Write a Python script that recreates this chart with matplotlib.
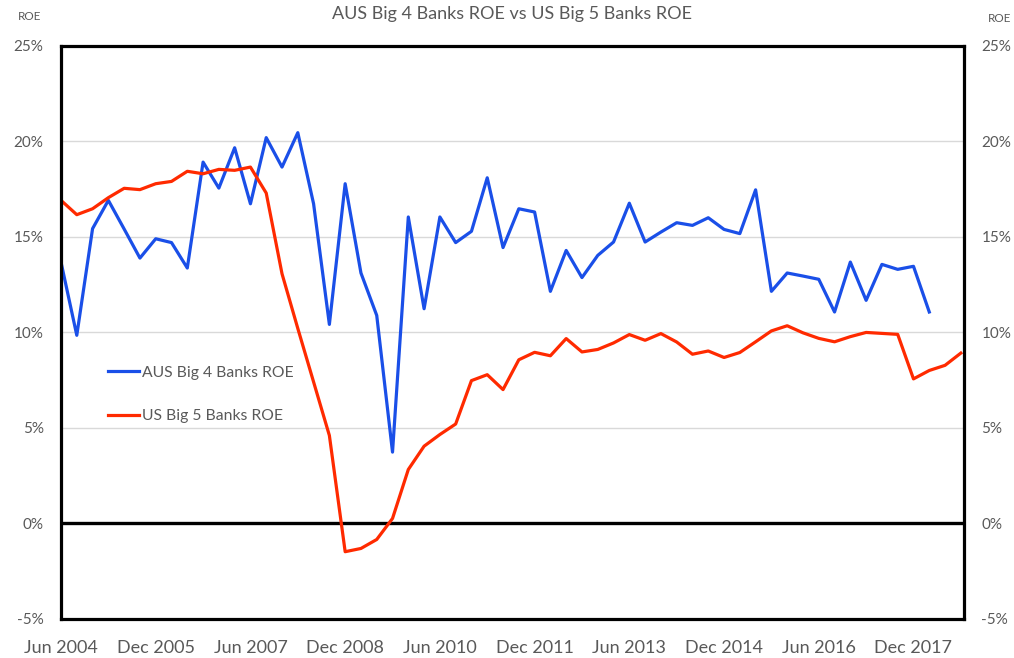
import matplotlib
matplotlib.use("Agg")
import matplotlib.pyplot as plt
import numpy as np

plt.rcParams['font.family'] = ['Lato', 'DejaVu Sans']

# Quarterly periods starting Jun 2004
start_year, start_month = 2004, 6
n_quarters = 58
month_names = ['Jan', 'Feb', 'Mar', 'Apr', 'May', 'Jun', 'Jul', 'Aug', 'Sep', 'Oct', 'Nov', 'Dec']
periods = []
for i in range(n_quarters):
    m = start_month - 1 + 3 * i
    periods.append(f"{month_names[m % 12]} {start_year + m // 12}")

aus_roe = [13.67, 9.84, 15.42, 16.90, 15.40, 13.88, 14.89, 14.69, 13.36, 18.90,
           17.54, 19.65, 16.72, 20.18, 18.64, 20.44, 16.72, 10.41, 17.77, 13.10,
           10.88, 3.73, 16.03, 11.23, 16.03, 14.69, 15.28, 18.08, 14.43, 16.46,
           16.29, 12.14, 14.28, 12.86, 14.02, 14.72, 16.75, 14.72, 15.24, 15.73,
           15.59, 15.99, 15.38, 15.16, 17.45, 12.14, 13.10, 12.94, 12.77, 11.06,
           13.67, 11.67, 13.55, 13.29, 13.45, 11.06]

us_roe = [16.90, 16.15, 16.46, 17.04, 17.53, 17.46, 17.77, 17.89, 18.42, 18.29,
          18.52, 18.47, 18.64, 17.28, 13.06, 10.20, 7.40, 4.60, -1.48, -1.31,
          -0.84, 0.26, 2.82, 4.04, 4.65, 5.20, 7.47, 7.78, 7.00, 8.56,
          8.95, 8.77, 9.67, 8.97, 9.10, 9.44, 9.88, 9.58, 9.93, 9.49,
          8.85, 9.02, 8.68, 8.94, 9.50, 10.07, 10.34, 9.97, 9.68, 9.50,
          9.77, 9.99, 9.94, 9.89, 7.56, 8.00, 8.27, 8.91]

y_ticks = [-5, 0, 5, 10, 15, 20, 25]
label_every = 6

W, H = 1014, 658
fig = plt.figure(figsize=(W / 100, H / 100), dpi=100)
left, right, top, bottom = 61, 964, 45.5, 619
ax = fig.add_axes([left / W, 1 - bottom / H, (right - left) / W, (bottom - top) / H])

text_color = '#595959'
blue = '#1a4fe8'
red = '#ff2a00'

x_aus = np.arange(len(aus_roe))
x_us = np.arange(len(us_roe))

for yv in y_ticks:
    if yv != 0:
        ax.axhline(yv, color='#d9d9d9', lw=1.0, zorder=1)
ax.axhline(0, color='black', lw=2.4, zorder=2)

ax.plot(x_aus, aus_roe, color=blue, lw=2.3, label='AUS Big 4 Banks ROE', zorder=3,
        solid_joinstyle='round')
ax.plot(x_us, us_roe, color=red, lw=2.3, label='US Big 5 Banks ROE', zorder=3,
        solid_joinstyle='round')

ax.set_xlim(0, 57.2)
ax.set_ylim(-5, 25)
ax.set_yticks(y_ticks)
ax.set_yticklabels([f"{v}%" for v in y_ticks])
xt = list(range(0, n_quarters, label_every))
ax.set_xticks(xt)
ax.set_xticklabels([periods[i] for i in xt])

ax.tick_params(axis='x', length=0, pad=15, labelsize=13, labelcolor=text_color)
ax.tick_params(axis='y', length=0, pad=12.5, labelsize=11, labelcolor=text_color,
               left=True, right=True, labelleft=True, labelright=True)

for s in ax.spines.values():
    s.set_color('black')
    s.set_linewidth(2.3)
    s.set_zorder(4)

fig.text(512 / W, 1 - 14 / H, 'AUS Big 4 Banks ROE vs US Big 5 Banks ROE',
         ha='center', va='center', fontsize=13, color=text_color)
fig.text(30 / W, 1 - 17 / H, 'ROE', ha='center', va='center', fontsize=8.5, color=text_color)
fig.text(1000 / W, 1 - 19 / H, 'ROE', ha='center', va='center', fontsize=8.5, color=text_color)

leg = ax.legend(loc='center left', bbox_to_anchor=(108 / W, 1 - 394.5 / H),
                bbox_transform=fig.transFigure, frameon=False, fontsize=11.3,
                handlelength=2.0, handletextpad=0.15, labelspacing=1.85,
                borderpad=0, borderaxespad=0)
for t in leg.get_texts():
    t.set_color(text_color)

fig.savefig('out.png', dpi=100)
